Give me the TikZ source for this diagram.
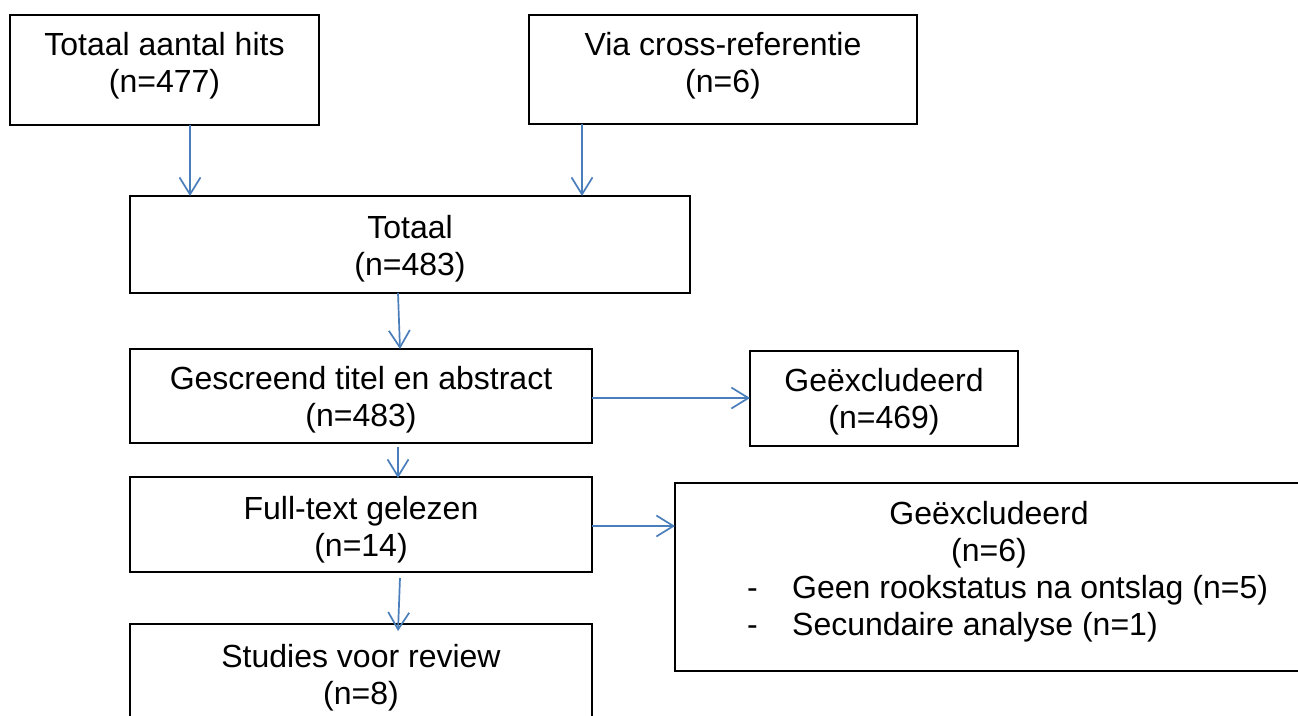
\documentclass[tikz,border=0pt]{standalone}
\usepackage{fontspec}
\setmainfont{Liberation Sans}
\usetikzlibrary{arrows.meta,positioning}
\definecolor{arrowblue}{RGB}{74,126,187}
\tikzset{
  box/.style={draw=black, line width=2pt, inner sep=0pt, rectangle},
  txt/.style={font=\fontsize{32}{37}\selectfont, align=center, inner sep=0pt},
  arr/.style={draw=arrowblue, line width=1.7pt, -{Straight Barb[length=17pt,width=21pt,line width=1.7pt]}}
}
\begin{document}
\begin{tikzpicture}[x=1pt,y=-1pt]
\useasboundingbox (0,0) rectangle (1298,715);
\clip (0,0) rectangle (1298,715);
\fill[white] (0,0) rectangle (1298,715);
% boxes
\node[box, minimum width=309pt, minimum height=110pt] (b1) at (164.5,70) {};
\node[box, minimum width=388pt, minimum height=109pt] (b2) at (723,69.5) {};
\node[box, minimum width=560pt, minimum height=97pt] (b3) at (410,244.5) {};
\node[box, minimum width=462pt, minimum height=94pt] (b4) at (361,396) {};
\node[box, minimum width=268pt, minimum height=95pt] (b5) at (884,398.5) {};
\node[box, minimum width=462pt, minimum height=95pt] (b6) at (361,524.5) {};
\node[box, minimum width=640pt, minimum height=188pt] (b7) at (995,577) {};
\node[box, minimum width=462pt, minimum height=95pt] (b8) at (361,671.5) {};
% texts
\node[txt] (t1) at (164.5,66) {Totaal aantal hits\\(n=477)};
\node[txt] (t2) at (723,66) {Via cross-referentie\\(n=6)};
\node[txt] (t3) at (410,249) {Totaal\\(n=483)};
\node[txt] (t4) at (361,400) {Gescreend titel en abstract\\(n=483)};
\node[txt] (t5) at (884,402) {Geëxcludeerd\\(n=469)};
\node[txt] (t6) at (361,530) {Full-text gelezen\\(n=14)};
\node[txt] (t7a) at (989,535) {Geëxcludeerd\\(n=6)};
\node[txt, anchor=west] (t7b) at (747,591) {\strut\makebox[45pt][l]{-}Geen rookstatus na ontslag (n=5)};
\node[txt, anchor=west] (t7c) at (747,628) {\strut\makebox[45pt][l]{-}Secundaire analyse (n=1)};
\node[txt] (t8) at (361,678) {Studies voor review\\(n=8)};
% connector anchors
\coordinate (a1s) at (190,125);
\coordinate (a1e) at (190,196);
\coordinate (a2s) at (582,124);
\coordinate (a2e) at (582,196);
\coordinate (a3s) at (398,293);
\coordinate (a3e) at (400,349);
\coordinate (a4s) at (398,447);
\coordinate (a4e) at (398,478);
\coordinate (a5s) at (400,578);
\coordinate (a5e) at (398,631);
\coordinate (h1s) at (592,398);
\coordinate (h1e) at (750,398);
\coordinate (h2s) at (592,526);
\coordinate (h2e) at (675,526);
\draw[arr] (a1s) -- (a1e);
\draw[arr] (a2s) -- (a2e);
\draw[arr] (a3s) -- (a3e);
\draw[arr] (a4s) -- (a4e);
\draw[arr] (a5s) -- (a5e);
\draw[arr] (h1s) -- (h1e);
\draw[arr] (h2s) -- (h2e);
\end{tikzpicture}
\end{document}
